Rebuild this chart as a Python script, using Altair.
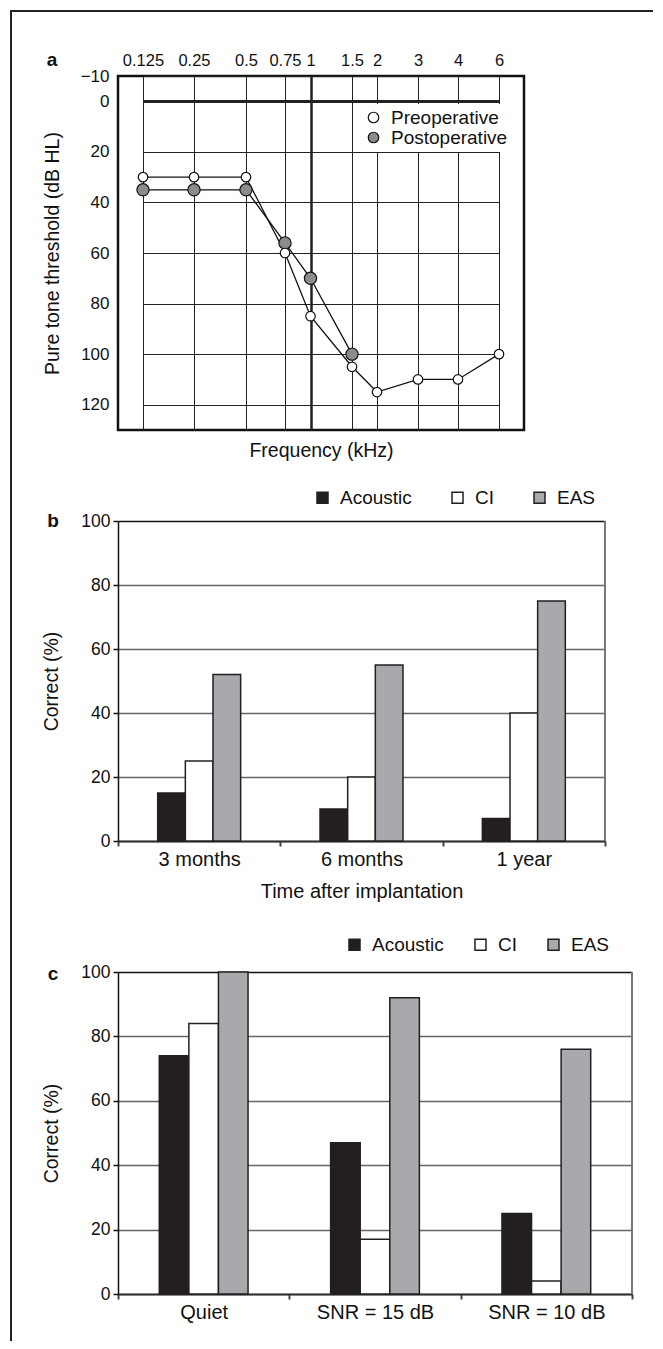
import altair as alt
import pandas as pd

FONT = "Liberation Sans"
INK = "#111111"

# ---------------- Panel a: audiogram ----------------
freqs = [0.125, 0.25, 0.5, 0.75, 1, 1.5, 2, 3, 4, 6]
pre_thresholds = [30, 30, 30, 60, 85, 105, 115, 110, 110, 100]
post_freqs = [0.125, 0.25, 0.5, 0.75, 1, 1.5]
post_thresholds = [35, 35, 35, 56, 70, 100]
curve_names = ["Preoperative", "Postoperative"]
y_ticks_a = [-10, 0, 20, 40, 60, 80, 100, 120]

# ---------------- Panel b ----------------
times = ["3 months", "6 months", "1 year"]
acoustic_b = [15, 10, 7]
ci_b = [25, 20, 40]
eas_b = [52, 55, 75]

# ---------------- Panel c ----------------
conditions = ["Quiet", "SNR = 15 dB", "SNR = 10 dB"]
acoustic_c = [74, 47, 25]
ci_c = [84, 17, 4]
eas_c = [100, 92, 76]

modes = ["Acoustic", "CI", "EAS"]
mode_colors = ["#231f20", "#ffffff", "#a7a9ac"]
pct_ticks = [0, 20, 40, 60, 80, 100]

deco = alt.Data(values=[{"k": 0}])


def letter(t, x, y):
    return alt.Chart(deco).mark_text(
        text=t, fontSize=19, fontWeight="bold", color=INK, font=FONT
    ).encode(x=alt.value(x), y=alt.value(y))


# ---- panel a ----
WA, HA = 406, 354
df_a = pd.DataFrame({
    "freq": post_freqs + freqs,
    "thr": post_thresholds + pre_thresholds,
    "curve": ["Postoperative"] * len(post_freqs) + ["Preoperative"] * len(freqs),
})

xa = alt.X(
    "freq:Q",
    scale=alt.Scale(type="linear", domain=freqs,
                    range=[25, 76, 128, 167, 192.5, 234, 259, 300, 340, 381],
                    nice=False, zero=False),
    axis=alt.Axis(orient="top", values=freqs, labelExpr="format(datum.value, '~g')",
                  labelOverlap=False, labelFlush=False, labelFontSize=16.5, labelPadding=8,
                  ticks=False, domain=False, grid=True, gridColor="#222",
                  gridWidth={"condition": {"test": "datum.value == 1", "value": 2.5}, "value": 1},
                  title="Frequency (kHz)", titleFontSize=19.5, titleFontWeight="normal",
                  titleX=WA / 2, titleY=HA + 20, titleBaseline="middle", titleAlign="center"),
)
ya = alt.Y(
    "thr:Q",
    scale=alt.Scale(domain=[-10, 130], reverse=True, nice=False, zero=False),
    axis=alt.Axis(values=y_ticks_a, format="d", labelOverlap=False, labelFlush=False,
                  labelFontSize=17, labelPadding=9, ticks=False, domain=False, grid=True,
                  gridColor="#222",
                  gridWidth={"condition": {"test": "datum.value == 0", "value": 3}, "value": 1},
                  title="Pure tone threshold (dB HL)", titleFontSize=19.5,
                  titleFontWeight="normal", titlePadding=18),
)

fill_a = alt.Fill(
    "curve:N", scale=alt.Scale(domain=curve_names, range=["#ffffff", "#8c8c8c"]),
    legend=alt.Legend(title=None, orient="none", legendX=242, legendY=28,
                      fillColor="white", padding=4, labelFontSize=19,
                      symbolType="circle", symbolSize=110,
                      symbolStrokeColor=INK, symbolStrokeWidth=1.2,
                      rowPadding=0, labelOffset=8),
)

lines_a = alt.Chart(df_a).mark_line(color=INK, strokeWidth=1.3).encode(
    x=xa, y=ya, detail="curve:N"
)
points_post = alt.Chart(df_a).transform_filter(
    alt.datum.curve == "Postoperative"
).mark_circle(opacity=1, stroke=INK, strokeWidth=1.2, size=150).encode(x=xa, y=ya, fill=fill_a)
points_pre = alt.Chart(df_a).transform_filter(
    alt.datum.curve == "Preoperative"
).mark_circle(opacity=1, stroke=INK, strokeWidth=1.2, size=90).encode(x=xa, y=ya, fill=fill_a)

# page border (left edge runs down the whole figure, top edge across it)
frame_left = alt.Chart(deco).mark_rect(color="#222").encode(
    x=alt.value(-108), x2=alt.value(-106), y=alt.value(-66), y2=alt.value(1265)
)
frame_top = alt.Chart(deco).mark_rect(color="#222").encode(
    x=alt.value(-108), x2=alt.value(535), y=alt.value(-66), y2=alt.value(-64)
)

panel_a = alt.layer(
    frame_left, frame_top, letter("a", -66, -16), lines_a, points_post, points_pre
).properties(width=WA, height=HA,
             view=alt.ViewBackground(stroke=INK, strokeWidth=2.5))


# ---- bar panels ----
def bar_panel(cats, acoustic, ci, eas, W, H, top, group_frac, legend_x, legend_y, col_pad,
              xtitle, tag):
    df = pd.DataFrame({
        "cat": cats * 3,
        "mode": [m for m in modes for _ in cats],
        "pct": acoustic + ci + eas,
    })
    band = W / len(cats)
    g0 = band * (1 - group_frac) / 2
    g1 = band - g0
    xaxis = dict(labelAngle=0, labelFontSize=20, labelPadding=3, tickBand="extent",
                 tickSize=5, tickColor="#444", tickWidth=2, domainColor="#333",
                 domainWidth=2, labelColor=INK)
    if xtitle:
        xaxis.update(title=xtitle, titleFontSize=20, titleFontWeight="normal", titlePadding=12)
    else:
        xaxis.update(title=None)
    bars = alt.Chart(df).mark_bar(stroke="#231f20", strokeWidth=1.5).encode(
        x=alt.X("cat:N", sort=cats, scale=alt.Scale(paddingInner=0, paddingOuter=0),
                axis=alt.Axis(**xaxis)),
        xOffset=alt.XOffset("mode:N", sort=modes,
                            scale=alt.Scale(domain=modes, paddingInner=0, paddingOuter=0,
                                            range=[g0, g1])),
        y=alt.Y("pct:Q", scale=alt.Scale(domain=[0, 100], nice=False, range=[H + top, top]),
                axis=alt.Axis(values=pct_ticks, labelFontSize=17.5, labelPadding=3,
                              labelFlush=False, tickSize=5, tickColor=INK, tickWidth=1.5,
                              domainColor=INK, domainWidth=1.5, grid=True,
                              gridColor={"condition": {"test": "datum.value == 100", "value": INK},
                                         "value": "#666"},
                              gridWidth=1.5, title="Correct (%)", titleFontSize=19.5,
                              titleFontWeight="normal", titlePadding=19)),
        fill=alt.Fill("mode:N", scale=alt.Scale(domain=modes, range=mode_colors),
                      legend=alt.Legend(title=None, orient="none", direction="horizontal",
                                        legendX=legend_x, legendY=legend_y + top,
                                        labelFontSize=19, symbolType="square", symbolSize=121,
                                        symbolStrokeColor="#231f20", symbolStrokeWidth=1.5,
                                        columnPadding=col_pad, labelOffset=8, padding=0)),
    )
    right_edge = alt.Chart(deco).mark_rule(color="#777", strokeWidth=2).encode(
        x=alt.value(W), y=alt.value(top), y2=alt.value(H + top)
    )
    return alt.layer(
        right_edge, letter(tag, -65, top + (0 if tag == "b" else 2)), bars
    ).properties(width=W, height=H + top, view=alt.ViewBackground(strokeWidth=0))


panel_b = bar_panel(times, acoustic_b, ci_b, eas_b, 487, 320, 0, 0.511, 195, -33, 36,
                    "Time after implantation", "b")
panel_c = bar_panel(conditions, acoustic_c, ci_c, eas_c, 514, 322, 40, 0.518, 227, -37, 27,
                    None, "c")

chart = alt.vconcat(panel_a, panel_b, panel_c, spacing=91, bounds="flush").resolve_scale(
    x="independent", y="independent", fill="independent", xOffset="independent"
).properties(padding=0).configure(font=FONT).configure_axis(
    labelColor=INK, titleColor=INK
).configure_legend(labelColor=INK)

chart.save("out.html", embed_options={"renderer": "svg", "actions": False})
